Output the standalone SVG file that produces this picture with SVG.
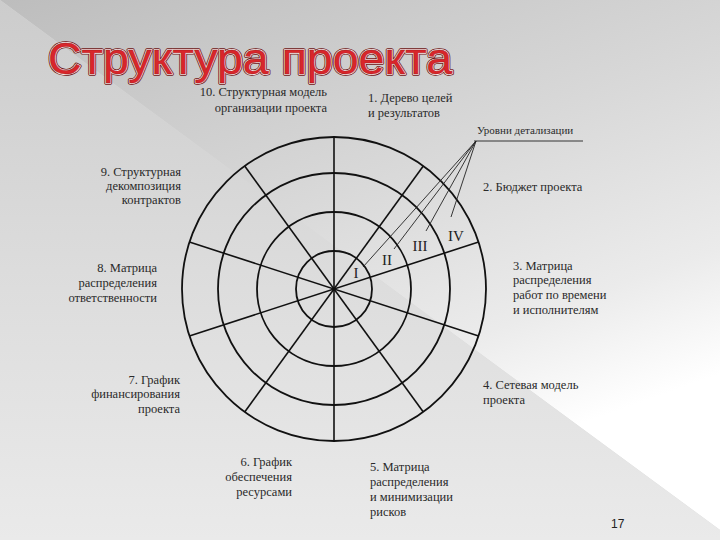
<svg xmlns="http://www.w3.org/2000/svg" width="720" height="540" viewBox="0 0 720 540">
<defs>
<linearGradient id="bgA" gradientUnits="userSpaceOnUse" x1="0" y1="0" x2="200" y2="560">
<stop offset="0" stop-color="#bdbdbd"/>
<stop offset="0.5" stop-color="#d9d9d9"/>
<stop offset="0.8" stop-color="#ebebeb"/>
<stop offset="1" stop-color="#ffffff"/>
</linearGradient>
<linearGradient id="bgB" x1="0" y1="0" x2="0" y2="1">
<stop offset="0" stop-color="#cccccc"/>
<stop offset="0.5" stop-color="#dcdcdc"/>
<stop offset="1" stop-color="#eaeaea"/>
</linearGradient>
<style>
.lbl{font-family:"Liberation Serif","Times New Roman",serif;font-size:12.5px;fill:#2a2a2a}
.r{text-anchor:end}
.lvl{font-family:"Liberation Serif","Times New Roman",serif;font-size:15px;fill:#222}
.ring{fill:none;stroke:#111;stroke-width:1.8}
.spoke{stroke:#111;stroke-width:1.6}
.lead{stroke:#222;stroke-width:0.9;fill:none}
.title{font-family:"Liberation Sans","DejaVu Sans",sans-serif;font-size:44px}
</style>
</defs>
<rect width="720" height="540" fill="#d8d8d8"/>
<polygon points="0,0 720,0 720,530" fill="url(#bgA)"/>
<polygon points="0,0 720,530 720,540 0,540" fill="url(#bgB)"/>

<g id="title">
<text class="title" x="48" y="74" textLength="404" lengthAdjust="spacingAndGlyphs" fill="none" stroke="#6e1414" stroke-width="3.4" stroke-linejoin="round">Структура проекта</text>
<text class="title" x="48" y="74" textLength="404" lengthAdjust="spacingAndGlyphs" fill="none" stroke="#f4eded" stroke-width="1.8" stroke-linejoin="round">Структура проекта</text>
<text class="title" x="48" y="74" textLength="404" lengthAdjust="spacingAndGlyphs" fill="#d8262b" stroke="#a01818" stroke-width="0.4">Структура проекта</text>
</g>

<g id="wheel">
<circle class="ring" cx="334" cy="289" r="152"/>
<circle class="ring" cx="334" cy="289" r="116"/>
<circle class="ring" cx="334" cy="289" r="77"/>
<circle class="ring" cx="334" cy="289" r="38"/>
<line class="spoke" x1="334" y1="137" x2="334" y2="441"/>
<line class="spoke" x1="423.3" y1="166" x2="244.7" y2="412"/>
<line class="spoke" x1="244.7" y1="166" x2="423.3" y2="412"/>
<line class="spoke" x1="478.6" y1="242" x2="189.4" y2="336"/>
<line class="spoke" x1="189.4" y1="242" x2="478.6" y2="336"/>
</g>

<g id="levels">
<text class="lvl" x="356" y="278" text-anchor="middle">I</text>
<text class="lvl" x="387" y="265" text-anchor="middle">II</text>
<text class="lvl" x="420" y="251" text-anchor="middle">III</text>
<text class="lvl" x="456" y="241" text-anchor="middle">IV</text>
</g>

<g id="connectors">
<line class="lead" x1="474" y1="141" x2="583" y2="141"/>
<line class="lead" x1="476" y1="141" x2="363" y2="267"/>
<line class="lead" x1="476" y1="141" x2="394" y2="249"/>
<line class="lead" x1="476" y1="141" x2="426" y2="231"/>
<line class="lead" x1="476" y1="141" x2="451" y2="217"/>
</g>

<g id="levels-label">
<text class="lbl" x="477" y="134" style="font-size:11px">Уровни детализации</text>
</g>

<g id="n10">
<text class="lbl r" x="327" y="96">10. Структурная модель</text>
<text class="lbl r" x="327" y="112">организации проекта</text>
</g>
<g id="n1">
<text class="lbl" x="368" y="102">1. Дерево целей</text>
<text class="lbl" x="368" y="117">и результатов</text>
</g>
<g id="n2">
<text class="lbl" x="483" y="191">2. Бюджет проекта</text>
</g>
<g id="n3">
<text class="lbl" x="513" y="270">3. Матрица</text>
<text class="lbl" x="513" y="284">распределения</text>
<text class="lbl" x="513" y="299">работ по времени</text>
<text class="lbl" x="513" y="314">и исполнителям</text>
</g>
<g id="n4">
<text class="lbl" x="483" y="389">4. Сетевая модель</text>
<text class="lbl" x="483" y="404">проекта</text>
</g>
<g id="n5">
<text class="lbl" x="370" y="471">5. Матрица</text>
<text class="lbl" x="370" y="486">распределения</text>
<text class="lbl" x="370" y="501">и минимизации</text>
<text class="lbl" x="370" y="516">рисков</text>
</g>
<g id="n6">
<text class="lbl r" x="292" y="466">6. График</text>
<text class="lbl r" x="292" y="481">обеспечения</text>
<text class="lbl r" x="292" y="496">ресурсами</text>
</g>
<g id="n7">
<text class="lbl r" x="180" y="384">7. График</text>
<text class="lbl r" x="180" y="398">финансирования</text>
<text class="lbl r" x="180" y="413">проекта</text>
</g>
<g id="n8">
<text class="lbl r" x="157" y="272">8. Матрица</text>
<text class="lbl r" x="157" y="287">распределения</text>
<text class="lbl r" x="157" y="302">ответственности</text>
</g>
<g id="n9">
<text class="lbl r" x="181" y="176">9. Структурная</text>
<text class="lbl r" x="181" y="190">декомпозиция</text>
<text class="lbl r" x="181" y="204">контрактов</text>
</g>
<text x="611" y="528" style="font-family:'Liberation Sans',Arial,sans-serif;font-size:12px;fill:#222">17</text>
</svg>
